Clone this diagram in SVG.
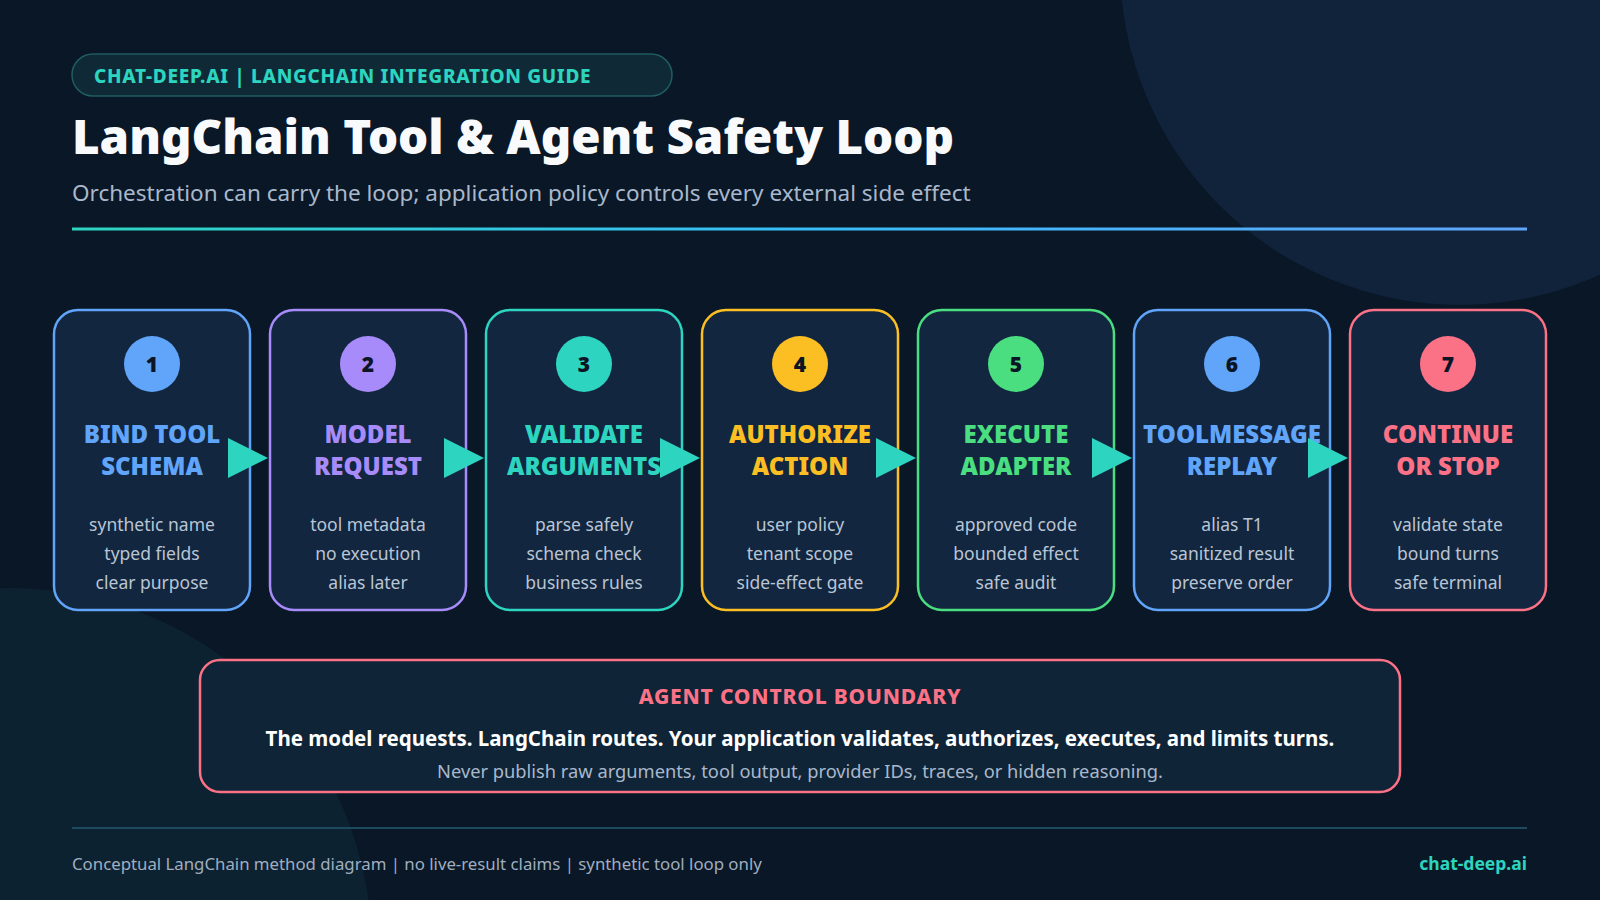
<svg xmlns="http://www.w3.org/2000/svg" width="1600" height="900" viewBox="0 0 1600 900">
<defs>
<linearGradient id="rule" x1="0" y1="0" x2="1" y2="0">
<stop offset="0" stop-color="#2dd4bf"/>
<stop offset="0.5" stop-color="#38bdf8"/>
<stop offset="1" stop-color="#60a5fa"/>
</linearGradient>
<style>
.sans{font-family:"Noto Sans","Open Sans","Liberation Sans",sans-serif}
.card{fill:#12263f;stroke-width:2.5}
.num{font-family:"Noto Sans","Liberation Sans",sans-serif;font-weight:900;font-size:21px;fill:#0b1526;text-anchor:middle}
.ttl{font-family:"Noto Sans","Liberation Sans",sans-serif;font-weight:900;font-size:24px;text-anchor:middle}
.body{font-family:"Noto Sans","Liberation Sans",sans-serif;font-size:17.5px;fill:#b9c5d4;text-anchor:middle}
.arrow{fill:#2dd4bf}
</style>
</defs>
<rect width="1600" height="900" fill="#091726"/>
<circle cx="1460" cy="-35" r="340" fill="#10233b"/>
<circle cx="10" cy="950" r="362" fill="#0d2230"/>

<g id="header">
<rect x="72" y="54" width="600" height="42" rx="21" fill="#0f2a36" stroke="#1f5c63" stroke-width="1.5"/>
<text x="94" y="83" class="sans" font-size="19" font-weight="800" fill="#2dd4bf" letter-spacing="0.7">CHAT-DEEP.AI | LANGCHAIN INTEGRATION GUIDE</text>
<text x="72" y="154" class="sans" font-size="48.5" font-weight="900" fill="#f8fafc" textLength="882" lengthAdjust="spacingAndGlyphs">LangChain Tool &amp; Agent Safety Loop</text>
<text x="72" y="201" class="sans" font-size="22.5" fill="#a9b8cc">Orchestration can carry the loop; application policy controls every external side effect</text>
<rect x="72" y="227.5" width="1455" height="3" fill="url(#rule)"/>
</g>

<g id="step1">
<rect class="card" x="54" y="310" width="196" height="300" rx="24" stroke="#60a5fa"/>
<circle cx="152" cy="364" r="28" fill="#60a5fa"/>
<text class="num" x="152" y="372">1</text>
<text class="ttl" x="152" y="443" fill="#60a5fa">BIND TOOL</text>
<text class="ttl" x="152" y="475" fill="#60a5fa">SCHEMA</text>
<text class="body" x="152" y="531">synthetic name</text>
<text class="body" x="152" y="560">typed fields</text>
<text class="body" x="152" y="589">clear purpose</text>
</g>
<g id="step2">
<rect class="card" x="270" y="310" width="196" height="300" rx="24" stroke="#a78bfa"/>
<circle cx="368" cy="364" r="28" fill="#a78bfa"/>
<text class="num" x="368" y="372">2</text>
<text class="ttl" x="368" y="443" fill="#a78bfa">MODEL</text>
<text class="ttl" x="368" y="475" fill="#a78bfa">REQUEST</text>
<text class="body" x="368" y="531">tool metadata</text>
<text class="body" x="368" y="560">no execution</text>
<text class="body" x="368" y="589">alias later</text>
</g>
<g id="step3">
<rect class="card" x="486" y="310" width="196" height="300" rx="24" stroke="#2dd4bf"/>
<circle cx="584" cy="364" r="28" fill="#2dd4bf"/>
<text class="num" x="584" y="372">3</text>
<text class="ttl" x="584" y="443" fill="#2dd4bf">VALIDATE</text>
<text class="ttl" x="584" y="475" fill="#2dd4bf">ARGUMENTS</text>
<text class="body" x="584" y="531">parse safely</text>
<text class="body" x="584" y="560">schema check</text>
<text class="body" x="584" y="589">business rules</text>
</g>
<g id="step4">
<rect class="card" x="702" y="310" width="196" height="300" rx="24" stroke="#fbbf24"/>
<circle cx="800" cy="364" r="28" fill="#fbbf24"/>
<text class="num" x="800" y="372">4</text>
<text class="ttl" x="800" y="443" fill="#fbbf24">AUTHORIZE</text>
<text class="ttl" x="800" y="475" fill="#fbbf24">ACTION</text>
<text class="body" x="800" y="531">user policy</text>
<text class="body" x="800" y="560">tenant scope</text>
<text class="body" x="800" y="589">side-effect gate</text>
</g>
<g id="step5">
<rect class="card" x="918" y="310" width="196" height="300" rx="24" stroke="#4ade80"/>
<circle cx="1016" cy="364" r="28" fill="#4ade80"/>
<text class="num" x="1016" y="372">5</text>
<text class="ttl" x="1016" y="443" fill="#4ade80">EXECUTE</text>
<text class="ttl" x="1016" y="475" fill="#4ade80">ADAPTER</text>
<text class="body" x="1016" y="531">approved code</text>
<text class="body" x="1016" y="560">bounded effect</text>
<text class="body" x="1016" y="589">safe audit</text>
</g>
<g id="step6">
<rect class="card" x="1134" y="310" width="196" height="300" rx="24" stroke="#60a5fa"/>
<circle cx="1232" cy="364" r="28" fill="#60a5fa"/>
<text class="num" x="1232" y="372">6</text>
<text class="ttl" x="1232" y="443" fill="#60a5fa">TOOLMESSAGE</text>
<text class="ttl" x="1232" y="475" fill="#60a5fa">REPLAY</text>
<text class="body" x="1232" y="531">alias T1</text>
<text class="body" x="1232" y="560">sanitized result</text>
<text class="body" x="1232" y="589">preserve order</text>
</g>
<g id="step7">
<rect class="card" x="1350" y="310" width="196" height="300" rx="24" stroke="#fb7185"/>
<circle cx="1448" cy="364" r="28" fill="#fb7185"/>
<text class="num" x="1448" y="372">7</text>
<text class="ttl" x="1448" y="443" fill="#fb7185">CONTINUE</text>
<text class="ttl" x="1448" y="475" fill="#fb7185">OR STOP</text>
<text class="body" x="1448" y="531">validate state</text>
<text class="body" x="1448" y="560">bound turns</text>
<text class="body" x="1448" y="589">safe terminal</text>
</g>

<g id="connectors">
<polygon class="arrow" points="228,438 268,458 228,478"/>
<polygon class="arrow" points="444,438 484,458 444,478"/>
<polygon class="arrow" points="660,438 700,458 660,478"/>
<polygon class="arrow" points="876,438 916,458 876,478"/>
<polygon class="arrow" points="1092,438 1132,458 1092,478"/>
<polygon class="arrow" points="1308,438 1348,458 1308,478"/>
</g>

<g id="boundary">
<rect x="200" y="660" width="1200" height="132" rx="20" fill="#0f2436" stroke="#fb7185" stroke-width="2.5"/>
<text x="800" y="704" class="sans" font-size="21" font-weight="800" fill="#fb7185" text-anchor="middle" letter-spacing="0.8">AGENT CONTROL BOUNDARY</text>
<text x="800" y="746" class="sans" font-size="20.5" font-weight="700" fill="#ffffff" text-anchor="middle">The model requests. LangChain routes. Your application validates, authorizes, executes, and limits turns.</text>
<text x="800" y="778" class="sans" font-size="18.3" fill="#a9b8cc" text-anchor="middle">Never publish raw arguments, tool output, provider IDs, traces, or hidden reasoning.</text>
</g>

<g id="footer">
<rect x="72" y="827" width="1455" height="2" fill="#1d4a5c"/>
<text x="72" y="870" class="sans" font-size="16.8" fill="#a0aec0">Conceptual LangChain method diagram | no live-result claims | synthetic tool loop only</text>
<text x="1527" y="870" class="sans" font-size="17.5" font-weight="700" fill="#2dd4bf" text-anchor="end">chat-deep.ai</text>
</g>
</svg>
